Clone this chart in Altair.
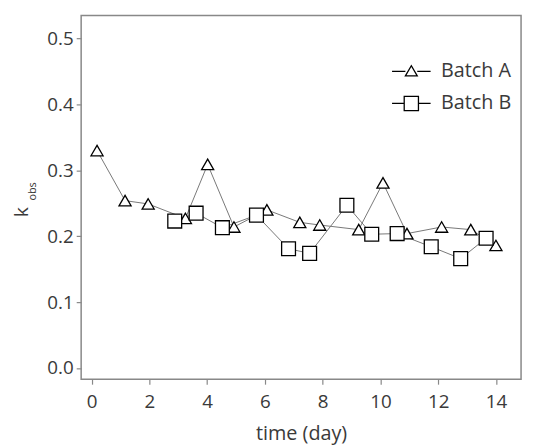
import altair as alt
import pandas as pd

# Batch A (triangles)
a_day = [0.19, 1.16, 1.96, 3.25, 4.02, 4.93, 6.07, 7.21, 7.90, 9.25, 10.09, 10.92, 12.12, 13.13, 14.00]
a_k = [0.330, 0.254, 0.249, 0.227, 0.309, 0.214, 0.240, 0.221, 0.217, 0.210, 0.281, 0.204, 0.214, 0.210, 0.186]
# Batch B (squares)
b_day = [2.88, 3.62, 4.53, 5.71, 6.82, 7.55, 8.84, 9.70, 10.58, 11.76, 12.78, 13.66]
b_k = [0.223, 0.235, 0.213, 0.232, 0.181, 0.174, 0.247, 0.203, 0.204, 0.184, 0.166, 0.197]

series_names = ["Batch A", "Batch B"]
x_ticks = [0, 2, 4, 6, 8, 10, 12, 14]
y_ticks = [0.0, 0.1, 0.2, 0.3, 0.4, 0.5]

df = pd.DataFrame({
    "day": a_day + b_day,
    "k": a_k + b_k,
    "series": ["Batch A"] * len(a_day) + ["Batch B"] * len(b_day),
})

FONT = "Open Sans"
TXT = "#3a3a3a"

x_enc = alt.X("day:Q", scale=alt.Scale(domain=[-0.36, 14.87], nice=False, zero=False),
              axis=alt.Axis(values=x_ticks, title="time (day)", grid=False, domain=False,
                            tickSize=5, tickColor="#888888", labelPadding=9,
                            titlePadding=12, format="d"))
y_enc = alt.Y("k:Q", scale=alt.Scale(domain=[-0.017, 0.535], nice=False, zero=False),
              axis=alt.Axis(values=y_ticks, title=None, grid=False, domain=False,
                            tickSize=5, tickColor="#888888", labelPadding=3, format=".1f"))

base = alt.Chart(df)

lines = base.mark_line(color="#777777", strokeWidth=1).encode(
    x=x_enc, y=y_enc, detail="series:N", order="day:Q")

points = base.mark_point(filled=False, fill="white", fillOpacity=1, stroke="black",
                         strokeWidth=1.3, opacity=1).encode(
    x="day:Q", y="k:Q",
    shape=alt.Shape("series:N", scale=alt.Scale(domain=series_names,
                                                range=["triangle-up", "square"]), legend=None),
    size=alt.Size("series:N", scale=alt.Scale(domain=series_names, range=[150, 196]), legend=None),
)

tri_path = "M-3.25,0.1H-1M1,0.1H3.25M-1,0.85L1,0.85L0,-0.85Z"
sq_path = "M-3.25,0H-1.2M1.2,0H3.25M-1.2,-1.2H1.2V1.2H-1.2Z"

legend_layer = base.mark_point(opacity=0).encode(
    x="day:Q", y="k:Q",
    shape=alt.Shape("series:N", scale=alt.Scale(domain=series_names, range=[tri_path, sq_path]),
                    legend=alt.Legend(title=None, orient="none", legendX=324, legendY=46,
                                      symbolOpacity=1, symbolSize=144, symbolStrokeColor="black",
                                      symbolFillColor="white", symbolStrokeWidth=1.3,
                                      labelOffset=20, labelFontSize=20, labelFont=FONT,
                                      labelColor=TXT, rowPadding=13, padding=0)),
)

k_text = alt.Chart(pd.DataFrame({"t": ["k"]})).mark_text(
    text="k", angle=270, font=FONT, fontSize=19, color=TXT, align="center", baseline="middle"
).encode(x=alt.value(-60), y=alt.value(199))
obs_text = alt.Chart(pd.DataFrame({"t": ["obs"]})).mark_text(
    text="obs", angle=270, font=FONT, fontSize=11, color=TXT, align="center", baseline="middle"
).encode(x=alt.value(-49), y=alt.value(178))

chart = alt.layer(lines, points, legend_layer, k_text, obs_text).resolve_scale(
    shape="independent", size="independent"
).properties(
    width=445, height=368,
    autosize=alt.AutoSizeParams(type="none"),
    padding={"left": 74, "top": 5, "right": 5, "bottom": 65},
).configure_view(
    stroke="#888888", strokeWidth=1.5
).configure_axis(
    labelFont=FONT, labelFontSize=19, labelColor=TXT,
    titleFont=FONT, titleFontSize=20, titleColor=TXT, titleFontWeight="normal",
    tickWidth=1.2
)

chart.save("out.html", embed_options={"renderer": "svg", "actions": False})
